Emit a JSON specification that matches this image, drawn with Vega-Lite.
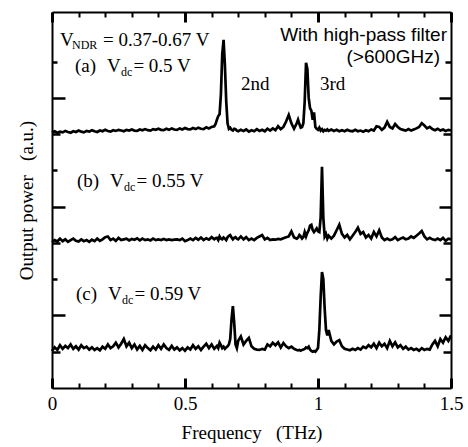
{
"$schema":"https://vega.github.io/schema/vega-lite/v6.json",
"width":399,"height":376,
"autosize":"none",
"padding":{"left":52,"top":12,"right":17,"bottom":59},
"config":{"view":{"stroke":null},"axis":{"grid":false,"domainColor":"black","domainWidth":2,"tickColor":"black","labelColor":"black","titleColor":"black","labelFont":"Liberation Serif","titleFont":"Liberation Serif","titleFontWeight":"normal"}},
"datasets":{
"spec":[
{"f":0.00,"a":7.05,"b":4.02,"c":1.02},{"f":0.01,"a":7.08,"b":4.08,"c":1.12},{"f":0.02,"a":7.04,"b":4.04,"c":1.05},{"f":0.03,"a":7.07,"b":4.12,"c":1.18},{"f":0.04,"a":7.05,"b":4.05,"c":1.08},{"f":0.05,"a":7.09,"b":4.10,"c":1.16},{"f":0.06,"a":7.06,"b":4.03,"c":1.10},{"f":0.07,"a":7.04,"b":4.08,"c":1.20},{"f":0.08,"a":7.08,"b":4.12,"c":1.08},{"f":0.09,"a":7.06,"b":4.06,"c":1.15},
{"f":0.10,"a":7.10,"b":4.04,"c":1.06},{"f":0.11,"a":7.07,"b":4.10,"c":1.18},{"f":0.12,"a":7.05,"b":4.05,"c":1.10},{"f":0.13,"a":7.09,"b":4.08,"c":1.14},{"f":0.14,"a":7.07,"b":4.03,"c":1.06},{"f":0.15,"a":7.11,"b":4.09,"c":1.12},{"f":0.16,"a":7.08,"b":4.05,"c":1.05},{"f":0.17,"a":7.06,"b":4.12,"c":1.10},{"f":0.18,"a":7.10,"b":4.06,"c":1.04},{"f":0.19,"a":7.08,"b":4.10,"c":1.14},
{"f":0.20,"a":7.12,"b":4.16,"c":1.08},{"f":0.21,"a":7.09,"b":4.18,"c":1.20},{"f":0.22,"a":7.07,"b":4.08,"c":1.10},{"f":0.23,"a":7.11,"b":4.12,"c":1.15},{"f":0.24,"a":7.09,"b":4.06,"c":1.25},{"f":0.25,"a":7.12,"b":4.14,"c":1.12},{"f":0.26,"a":7.10,"b":4.08,"c":1.22},{"f":0.27,"a":7.08,"b":4.10,"c":1.35},{"f":0.28,"a":7.12,"b":4.12,"c":1.15},{"f":0.29,"a":7.10,"b":4.07,"c":1.25},
{"f":0.30,"a":7.13,"b":4.11,"c":1.10},{"f":0.31,"a":7.10,"b":4.09,"c":1.20},{"f":0.32,"a":7.09,"b":4.13,"c":1.06},{"f":0.33,"a":7.13,"b":4.07,"c":1.16},{"f":0.34,"a":7.11,"b":4.12,"c":1.05},{"f":0.35,"a":7.14,"b":4.08,"c":1.18},{"f":0.36,"a":7.11,"b":4.10,"c":1.10},{"f":0.37,"a":7.10,"b":4.07,"c":1.04},{"f":0.38,"a":7.14,"b":4.12,"c":1.14},{"f":0.39,"a":7.12,"b":4.08,"c":1.06},
{"f":0.40,"a":7.15,"b":4.10,"c":1.18},{"f":0.41,"a":7.12,"b":4.08,"c":1.08},{"f":0.42,"a":7.11,"b":4.11,"c":1.20},{"f":0.43,"a":7.15,"b":4.08,"c":1.10},{"f":0.44,"a":7.12,"b":4.10,"c":1.05},{"f":0.45,"a":7.16,"b":4.08,"c":1.16},{"f":0.46,"a":7.13,"b":4.09,"c":1.06},{"f":0.47,"a":7.12,"b":4.10,"c":1.12},{"f":0.48,"a":7.16,"b":4.08,"c":1.04},{"f":0.49,"a":7.13,"b":4.12,"c":1.10},
{"f":0.50,"a":7.17,"b":4.05,"c":1.03},{"f":0.51,"a":7.14,"b":4.08,"c":1.12},{"f":0.52,"a":7.13,"b":4.12,"c":1.06},{"f":0.53,"a":7.17,"b":4.08,"c":1.18},{"f":0.54,"a":7.14,"b":4.14,"c":1.08},{"f":0.55,"a":7.18,"b":4.09,"c":1.15},{"f":0.56,"a":7.15,"b":4.15,"c":1.05},{"f":0.57,"a":7.14,"b":4.08,"c":1.14},{"f":0.58,"a":7.19,"b":4.13,"c":1.22},{"f":0.59,"a":7.16,"b":4.09,"c":1.10},
{"f":0.60,"a":7.20,"b":4.16,"c":1.20},
{"f":0.61,"a":7.22,"b":4.10,"c":1.08},{"f":0.615,"a":7.28,"b":4.13,"c":1.12},{"f":0.62,"a":7.40,"b":4.14,"c":1.16},{"f":0.625,"a":7.50,"b":4.08,"c":1.10},{"f":0.63,"a":7.55,"b":4.18,"c":1.25},{"f":0.635,"a":8.10,"b":4.12,"c":1.18},{"f":0.64,"a":9.20,"b":4.10,"c":1.10},{"f":0.645,"a":9.60,"b":4.15,"c":1.14},{"f":0.65,"a":8.90,"b":4.12,"c":1.08},{"f":0.655,"a":7.90,"b":4.08,"c":1.12},
{"f":0.66,"a":7.30,"b":4.16,"c":1.15},{"f":0.665,"a":7.15,"b":4.20,"c":1.20},{"f":0.67,"a":7.18,"b":4.22,"c":1.35},{"f":0.675,"a":7.12,"b":4.15,"c":1.90},{"f":0.68,"a":7.10,"b":4.10,"c":2.26},{"f":0.685,"a":7.15,"b":4.14,"c":1.80},{"f":0.69,"a":7.14,"b":4.16,"c":1.20},{"f":0.695,"a":7.10,"b":4.12,"c":1.10},{"f":0.70,"a":7.08,"b":4.10,"c":1.30},
{"f":0.71,"a":7.12,"b":4.18,"c":1.42},{"f":0.72,"a":7.09,"b":4.10,"c":1.20},{"f":0.73,"a":7.13,"b":4.16,"c":1.30},{"f":0.74,"a":7.07,"b":4.08,"c":1.38},{"f":0.75,"a":7.11,"b":4.12,"c":1.15},{"f":0.76,"a":7.08,"b":4.08,"c":1.08},{"f":0.77,"a":7.14,"b":4.14,"c":1.06},{"f":0.78,"a":7.09,"b":4.18,"c":1.05},{"f":0.79,"a":7.12,"b":4.22,"c":1.08},{"f":0.80,"a":7.08,"b":4.10,"c":1.06},
{"f":0.81,"a":7.15,"b":4.14,"c":1.20},{"f":0.82,"a":7.10,"b":4.08,"c":1.15},{"f":0.83,"a":7.16,"b":4.10,"c":1.25},{"f":0.84,"a":7.11,"b":4.09,"c":1.18},{"f":0.85,"a":7.22,"b":4.11,"c":1.26},{"f":0.86,"a":7.14,"b":4.10,"c":1.12},{"f":0.87,"a":7.20,"b":4.13,"c":1.24},{"f":0.88,"a":7.35,"b":4.16,"c":1.15},{"f":0.89,"a":7.53,"b":4.18,"c":1.10},{"f":0.90,"a":7.30,"b":4.32,"c":1.14},
{"f":0.91,"a":7.15,"b":4.15,"c":1.08},
{"f":0.92,"a":7.30,"b":4.12,"c":1.05},{"f":0.925,"a":7.40,"b":4.15,"c":1.04},{"f":0.93,"a":7.28,"b":4.22,"c":1.05},{"f":0.935,"a":7.18,"b":4.18,"c":1.03},{"f":0.94,"a":7.20,"b":4.12,"c":1.05},{"f":0.945,"a":7.30,"b":4.16,"c":1.06},{"f":0.95,"a":7.90,"b":4.30,"c":1.08},{"f":0.955,"a":8.97,"b":4.18,"c":1.12},{"f":0.96,"a":8.80,"b":4.28,"c":1.10},{"f":0.965,"a":8.00,"b":4.35,"c":1.14},
{"f":0.97,"a":7.72,"b":4.48,"c":1.06},{"f":0.975,"a":7.65,"b":4.50,"c":1.02},{"f":0.98,"a":7.40,"b":4.36,"c":1.00},{"f":0.985,"a":7.60,"b":4.30,"c":1.02},{"f":0.99,"a":7.20,"b":4.35,"c":1.00},{"f":0.995,"a":7.15,"b":4.40,"c":1.05},{"f":1.00,"a":7.12,"b":4.32,"c":1.10},{"f":1.005,"a":7.18,"b":4.30,"c":1.60},{"f":1.01,"a":7.10,"b":4.70,"c":2.50},{"f":1.015,"a":7.14,"b":6.10,"c":3.20},
{"f":1.02,"a":7.08,"b":4.70,"c":3.00},{"f":1.025,"a":7.12,"b":4.18,"c":2.20},{"f":1.03,"a":7.10,"b":4.25,"c":1.60},{"f":1.035,"a":7.13,"b":4.12,"c":1.45},{"f":1.04,"a":7.09,"b":4.20,"c":1.60},
{"f":1.05,"a":7.13,"b":4.12,"c":1.30},{"f":1.06,"a":7.09,"b":4.20,"c":1.20},{"f":1.07,"a":7.12,"b":4.35,"c":1.28},{"f":1.08,"a":7.08,"b":4.50,"c":1.32},{"f":1.09,"a":7.11,"b":4.25,"c":1.15},{"f":1.10,"a":7.08,"b":4.15,"c":1.08},{"f":1.11,"a":7.12,"b":4.22,"c":1.06},{"f":1.12,"a":7.09,"b":4.10,"c":1.04},{"f":1.13,"a":7.08,"b":4.20,"c":1.08},{"f":1.14,"a":7.12,"b":4.30,"c":1.05},
{"f":1.15,"a":7.08,"b":4.42,"c":1.10},{"f":1.16,"a":7.10,"b":4.25,"c":1.06},{"f":1.17,"a":7.07,"b":4.30,"c":1.14},{"f":1.18,"a":7.11,"b":4.15,"c":1.10},{"f":1.19,"a":7.08,"b":4.22,"c":1.18},{"f":1.20,"a":7.13,"b":4.12,"c":1.12},{"f":1.21,"a":7.10,"b":4.30,"c":1.22},{"f":1.22,"a":7.22,"b":4.18,"c":1.10},{"f":1.23,"a":7.20,"b":4.35,"c":1.25},{"f":1.24,"a":7.12,"b":4.15,"c":1.15},
{"f":1.25,"a":7.18,"b":4.08,"c":1.22},{"f":1.26,"a":7.34,"b":4.12,"c":1.10},{"f":1.27,"a":7.20,"b":4.08,"c":1.30},{"f":1.28,"a":7.16,"b":4.10,"c":1.15},{"f":1.29,"a":7.28,"b":4.16,"c":1.26},{"f":1.30,"a":7.20,"b":4.08,"c":1.12},{"f":1.31,"a":7.14,"b":4.12,"c":1.18},{"f":1.32,"a":7.12,"b":4.15,"c":1.08},{"f":1.33,"a":7.10,"b":4.10,"c":1.14},{"f":1.34,"a":7.14,"b":4.12,"c":1.06},
{"f":1.35,"a":7.10,"b":4.18,"c":1.10},{"f":1.36,"a":7.13,"b":4.14,"c":1.05},{"f":1.37,"a":7.16,"b":4.20,"c":1.08},{"f":1.38,"a":7.20,"b":4.26,"c":1.03},{"f":1.39,"a":7.30,"b":4.33,"c":1.10},{"f":1.40,"a":7.24,"b":4.18,"c":1.05},{"f":1.41,"a":7.16,"b":4.10,"c":1.08},{"f":1.42,"a":7.20,"b":4.14,"c":1.06},{"f":1.43,"a":7.14,"b":4.10,"c":1.20},{"f":1.44,"a":7.11,"b":4.08,"c":1.30},
{"f":1.45,"a":7.15,"b":4.12,"c":1.15},{"f":1.46,"a":7.10,"b":4.08,"c":1.35},{"f":1.47,"a":7.13,"b":4.14,"c":1.25},{"f":1.48,"a":7.09,"b":4.06,"c":1.40},{"f":1.49,"a":7.12,"b":4.12,"c":1.30},{"f":1.50,"a":7.10,"b":4.10,"c":1.45}
],
"txt":[
{"f":0.0301,"p":9.42,"t":"V"},{"f":0.1917,"p":9.42,"t":"= 0.37-0.67 V"},
{"f":0.0865,"p":8.717,"t":"(a)"},{"f":0.2068,"p":8.717,"t":"V"},{"f":0.306,"p":8.717,"t":"= 0.5 V"},
{"f":0.7105,"p":8.221,"t":"2nd"},{"f":1.0075,"p":8.221,"t":"3rd"},
{"f":0.094,"p":5.545,"t":"(b)"},{"f":0.218,"p":5.545,"t":"V"},{"f":0.318,"p":5.545,"t":"= 0.55 V"},
{"f":0.0902,"p":2.428,"t":"(c)"},{"f":0.2105,"p":2.428,"t":"V"},{"f":0.31,"p":2.428,"t":"= 0.59 V"}
],
"sub":[
{"f":0.0752,"p":9.338,"t":"NDR"},{"f":0.2594,"p":8.607,"t":"dc"},{"f":0.2707,"p":5.434,"t":"dc"},{"f":0.263,"p":2.317,"t":"dc"}
],
"sans":[
{"f":1.485,"p":9.559,"t":"With high-pass filter"},{"f":1.4586,"p":8.952,"t":"(>600GHz)"}
]
},
"layer":[
{"data":{"name":"spec"},
 "transform":[{"fold":["a","b","c"],"as":["s","p"]}],
 "mark":{"type":"line","color":"black","strokeWidth":2.7},
 "encoding":{
  "x":{"field":"f","type":"quantitative","scale":{"domain":[0,1.5],"nice":false},
   "axis":{"orient":"bottom","values":[0,0.1,0.2,0.3,0.4,0.5,0.6,0.7,0.8,0.9,1,1.1,1.2,1.3,1.4,1.5],
    "tickSize":{"condition":{"test":"abs(datum.value*2-round(datum.value*2))<0.001","value":-10},"value":-5},
    "tickWidth":{"condition":{"test":"abs(datum.value*2-round(datum.value*2))<0.001","value":3},"value":2},
    "labelExpr":"abs(datum.value*2-round(datum.value*2))<0.001 ? format(datum.value,'~g') : ''",
    "labelPadding":16,"labelFontSize":19,"labelFlush":false,
    "title":"Frequency\u00a0\u00a0\u00a0(THz)","titleFontSize":19,"titlePadding":10}},
  "y":{"field":"p","type":"quantitative","scale":{"domain":[0,10.37],"nice":false,"zero":false},
   "axis":{"orient":"left","values":[1,2,3,4,5,6,7,8,9],"labels":false,
    "tickSize":{"condition":[{"test":"datum.value % 3 == 2","value":-13},{"test":"datum.value % 3 == 0","value":-5}],"value":-8},
    "tickWidth":2.5,
    "title":"Output power\u00a0\u00a0\u00a0(a.u.)","titleFontSize":19,"titlePadding":14}},
  "detail":{"field":"s"}
 }},
{"data":{"name":"txt"},
 "mark":{"type":"text","align":"left","baseline":"alphabetic","font":"Liberation Serif","fontSize":19,"color":"black"},
 "encoding":{
  "x":{"field":"f","type":"quantitative",
   "axis":{"orient":"top","values":[0,0.1,0.2,0.3,0.4,0.5,0.6,0.7,0.8,0.9,1,1.1,1.2,1.3,1.4,1.5],"labels":false,"title":null,
    "tickSize":{"condition":{"test":"abs(datum.value*2-round(datum.value*2))<0.001","value":-10},"value":-5},
    "tickWidth":{"condition":{"test":"abs(datum.value*2-round(datum.value*2))<0.001","value":3},"value":2}}},
  "y":{"field":"p","type":"quantitative",
   "axis":{"orient":"right","values":[1,2,3,4,5,6,7,8,9],"labels":false,"title":null,
    "tickSize":{"condition":[{"test":"datum.value % 3 == 2","value":-12},{"test":"datum.value % 3 == 0","value":-6}],"value":-8},
    "tickWidth":2.5}},
  "text":{"field":"t"}
 }},
{"data":{"name":"sub"},
 "mark":{"type":"text","align":"left","baseline":"alphabetic","font":"Liberation Serif","fontSize":12,"color":"black"},
 "encoding":{
  "x":{"field":"f","type":"quantitative","axis":null},
  "y":{"field":"p","type":"quantitative","axis":null},
  "text":{"field":"t"}
 }},
{"data":{"name":"sans"},
 "mark":{"type":"text","align":"right","baseline":"alphabetic","font":"Liberation Sans","fontSize":19,"color":"black"},
 "encoding":{
  "x":{"field":"f","type":"quantitative","axis":null},
  "y":{"field":"p","type":"quantitative","axis":null},
  "text":{"field":"t"}
 }}
],
"resolve":{"axis":{"x":"independent","y":"independent"}}
}
